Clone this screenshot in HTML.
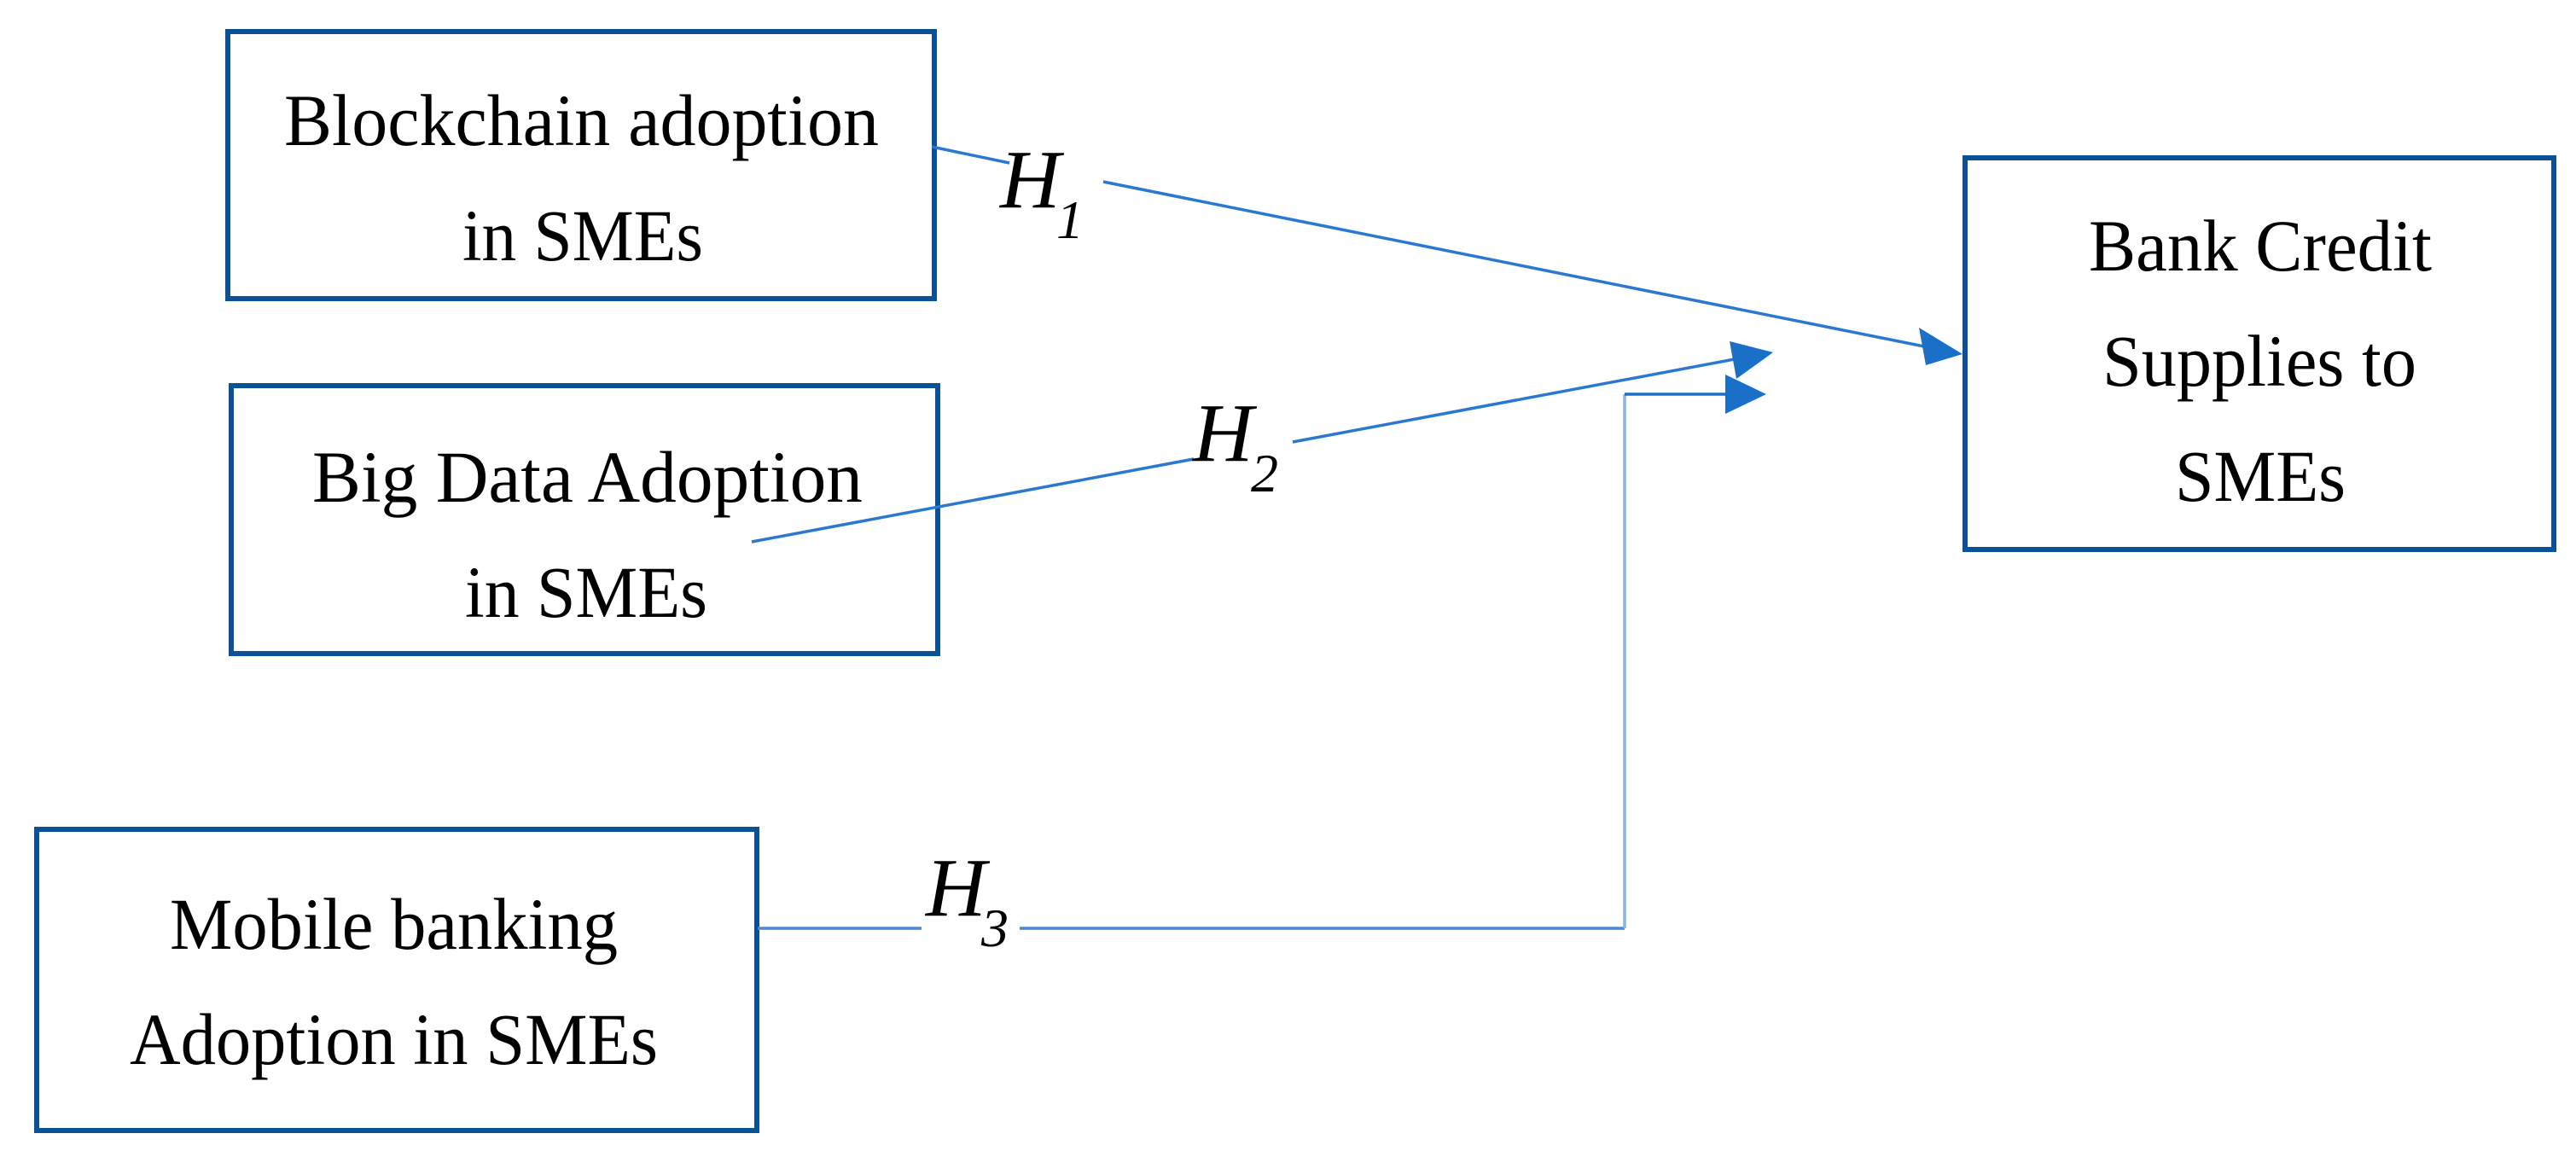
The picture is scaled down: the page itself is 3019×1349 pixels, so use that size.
<!DOCTYPE html>
<html><head><meta charset="utf-8"><style>
html,body{margin:0;padding:0;background:#fff;}
svg{display:block;}
text{font-family:"Liberation Serif","Times New Roman",serif;fill:#000;}
</style></head><body>
<svg width="3019" height="1349" viewBox="0 0 3019 1349" xmlns="http://www.w3.org/2000/svg">
<g fill="none" stroke="#0a5196" stroke-width="6">
<rect x="267" y="37" width="828" height="313"/>
<rect x="271" y="452" width="828" height="314"/>
<rect x="43" y="972" width="844" height="353"/>
<rect x="2303" y="185" width="690" height="459"/>
</g>
<g font-size="86" text-anchor="start">
<text x="333" y="170" textLength="697" lengthAdjust="spacingAndGlyphs">Blockchain adoption</text>
<text x="542" y="305" textLength="282" lengthAdjust="spacingAndGlyphs">in SMEs</text>
<text x="366" y="588" textLength="645" lengthAdjust="spacingAndGlyphs">Big Data Adoption</text>
<text x="545" y="723" textLength="284" lengthAdjust="spacingAndGlyphs">in SMEs</text>
<text x="199" y="1112" textLength="525" lengthAdjust="spacingAndGlyphs">Mobile banking</text>
<text x="152" y="1247" textLength="619" lengthAdjust="spacingAndGlyphs">Adoption in SMEs</text>
<text x="2448" y="317" textLength="402" lengthAdjust="spacingAndGlyphs">Bank Credit</text>
<text x="2464" y="452" textLength="368" lengthAdjust="spacingAndGlyphs">Supplies to</text>
<text x="2549" y="587" textLength="200" lengthAdjust="spacingAndGlyphs">SMEs</text>
</g>
<g stroke="#2a78d0" stroke-width="3.5" fill="none">
<line x1="1092" y1="172" x2="1183" y2="191"/>
<line x1="1293" y1="213" x2="2255" y2="406"/>
<line x1="881" y1="635" x2="1399" y2="538"/>
<line x1="1515" y1="518" x2="2033" y2="421"/>
<line x1="888" y1="1088" x2="1080" y2="1088" stroke="#4a88d4"/>
<line x1="1195" y1="1088" x2="1904" y2="1088" stroke="#4a88d4"/>
<line x1="1904" y1="1088" x2="1904" y2="462" stroke="#8fb4e6"/>
<line x1="1904" y1="462" x2="2025" y2="462" stroke="#1a6fc8"/>
</g>
<g fill="#1a70c6">
<polygon points="2300,415 2249,384 2257,428"/>
<polygon points="2078,413 2027,400 2035,444"/>
<polygon points="2070,462 2022,439 2022,485"/>
</g>
<g font-style="italic">
<text x="1172" y="243" font-size="98">H</text>
<text x="1238" y="279" font-size="64">1</text>
<text x="1398" y="540" font-size="98">H</text>
<text x="1466" y="576" font-size="64">2</text>
<text x="1085" y="1073" font-size="98">H</text>
<text x="1150" y="1109" font-size="64">3</text>
</g>
</svg>
</body></html>
